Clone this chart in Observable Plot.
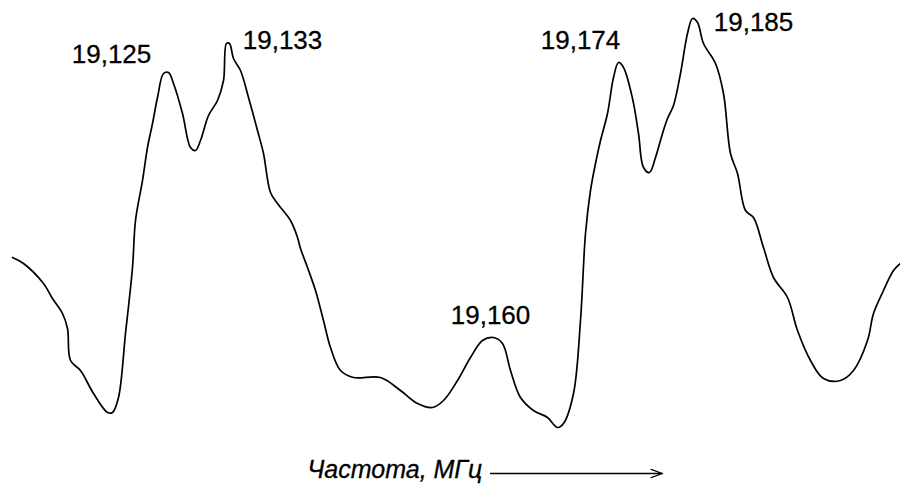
<!DOCTYPE html>
<html><head><meta charset="utf-8">
<script src="https://cdn.jsdelivr.net/npm/d3@7"></script>
<script src="https://cdn.jsdelivr.net/npm/@observablehq/plot@0.6"></script>
<style>body{margin:0;background:#fff}</style>
</head><body><div id="chart"></div>
<script>
// Spectrum trace: position along the frequency axis (arbitrary units) and signal level
const pos = [12,23,43,52,62,67,70,80,93,107,112,118,125,132,135,142,147,152,157,163,168,173,182,190,195,200,208,217,223,226,229,233,240,248,257,263,270,277,290,297,300,307,315,323,330,340,353,380,400,417,432,443,457,470,482,493,502,510,520,533,547,557,563,573,580,585,590,595,600,607,613,618,623,632,638,643,649,655,662,667,673,680,687,692,697,703,715,723,730,737,745,753,763,773,787,797,810,823,840,853,867,873,883,893,900];
const pixY = [257,263,283,298,313,328,360,370,393,412,412,397,333,267,220,180,147,123,97,73,72,83,113,147,150,140,115,100,80,43,43,58,70,97,130,153,192,203,220,237,248,267,290,320,347,370,377,377,390,403,407,400,380,357,340,337,343,370,397,410,417,427,423,393,320,233,190,163,140,113,77,62,67,98,133,167,172,157,133,118,105,73,33,18,22,43,63,93,153,173,210,217,247,277,297,330,360,378,380,370,340,313,290,270,263];
const level = pixY.map(v => 484 - v);

// Peak labels (MHz)
const peakLabels = ["19,125","19,133","19,160","19,174","19,185"];
const peakPos = [167,228,490,619,693];
const peakLevel = [412,441,147,422,466];
const peakDx = [-56,54,0,-39,60];
const peakDy = [-10,5,-14,-14,12];

const axisLabel = "Частота, МГц";

const data = pos.map((x,i)=>({x, y: level[i]}));
const peaks = peakLabels.map((t,i)=>({t, x: peakPos[i], y: peakLevel[i], dx: peakDx[i], dy: peakDy[i]}));

const font = "Liberation Sans, Arial, sans-serif";
const chart = Plot.plot({
  width: 900, height: 484,
  margin: 0,
  style: {fontFamily: font, background: "#fff"},
  x: {domain: [0, 900], axis: null},
  y: {domain: [0, 484], axis: null},
  marks: [
    Plot.line(data, {x: "x", y: "y", curve: "catmull-rom", stroke: "#000", strokeWidth: 1.7}),
    ...peaks.map(p => Plot.text([p], {x: "x", y: "y", text: "t", dx: p.dx, dy: p.dy, fontSize: 26, fill: "#000", stroke: "#000", strokeWidth: 0.3, textAnchor: "middle", lineAnchor: "bottom"})),
    Plot.text([axisLabel], {x: 307, y: 7, text: d => d, fontSize: 25, fontStyle: "italic", fill: "#000", stroke: "#000", strokeWidth: 0.3, textAnchor: "start", lineAnchor: "bottom"}),
    Plot.arrow([{x1: 490, x2: 662, y: 11}], {x1: "x1", x2: "x2", y1: "y", y2: "y", stroke: "#000", strokeWidth: 1.3, headLength: 14, headAngle: 40})
  ]
});
document.getElementById("chart").appendChild(chart);
</script>
</body></html>
